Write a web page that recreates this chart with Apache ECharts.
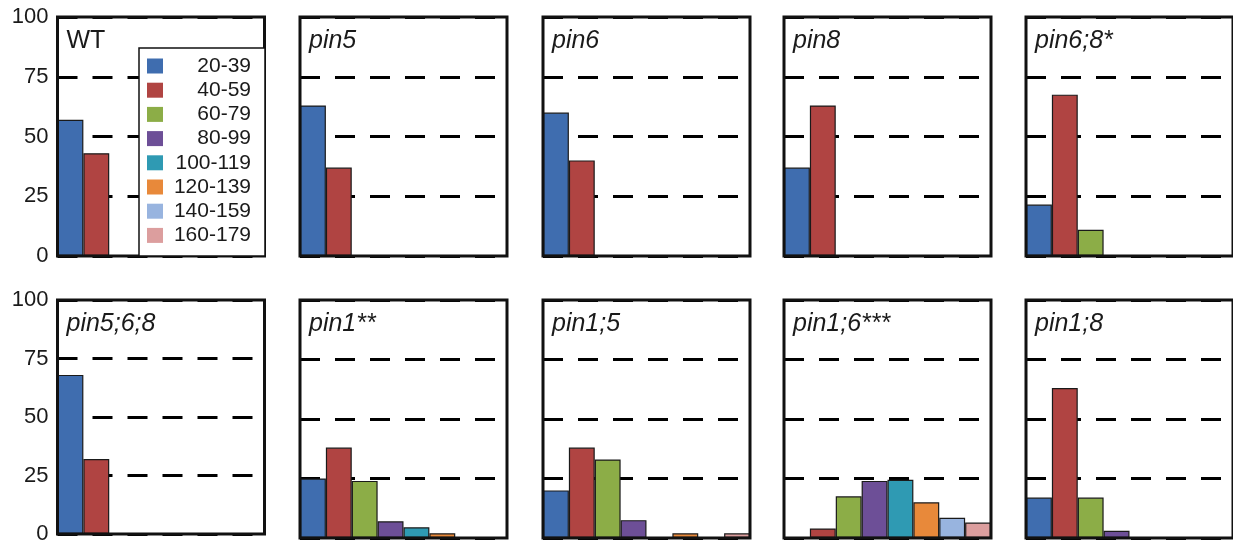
<!DOCTYPE html>
<html>
<head>
<meta charset="utf-8">
<script src="https://cdn.jsdelivr.net/npm/echarts@6/dist/echarts.min.js"></script>
<style>html,body{margin:0;padding:0;background:#fff;}#c{width:1233px;height:545px;}</style>
</head>
<body>
<div id="c"></div>
<script>
// ---- data ----
const categories = ['20-39','40-59','60-79','80-99','100-119','120-139','140-159','160-179'];
const panelNames = ['WT','pin5','pin6','pin8','pin6;8*','pin5;6;8','pin1**','pin1;5','pin1;6***','pin1;8'];
const wt       = [57, 43, 0, 0, 0, 0, 0, 0];
const pin5     = [63, 37, 0, 0, 0, 0, 0, 0];
const pin6     = [60, 40, 0, 0, 0, 0, 0, 0];
const pin8     = [37, 63, 0, 0, 0, 0, 0, 0];
const pin6_8   = [21.5, 67.5, 11, 0, 0, 0, 0, 0];
const pin5_6_8 = [68, 32, 0, 0, 0, 0, 0, 0];
const pin1     = [25, 38, 24, 7, 4.5, 2, 0, 0];
const pin1_5   = [20, 38, 33, 7.5, 0, 2, 0, 2];
const pin1_6   = [0, 4, 17.5, 24, 24.5, 15, 8.5, 6.5];
const pin1_8   = [17, 63, 17, 3, 0, 0, 0, 0];
const panelValues = [wt, pin5, pin6, pin8, pin6_8, pin5_6_8, pin1, pin1_5, pin1_6, pin1_8];
const yMin = 0, yMax = 100, yStep = 25;

// ---- styling / layout ----
const colors = ['#3f6daf','#b04442','#8cad47','#6d4f97','#2f9ab3','#e8893a','#98b4df','#dc9e9e'];
const colLefts = [57.5, 300, 543, 784, 1026];
const rowTops = [17, 300];
const gw = 207;
const FONT = 'Liberation Sans, Arial, sans-serif';

const grids = [], xAxes = [], yAxes = [], series = [], titles = [];
panelValues.forEach((vals, p) => {
  const col = p % 5, row = Math.floor(p / 5);
  const left = colLefts[col], top = rowTops[row];
  grids.push({left, top, width: gw, height: row === 0 ? 239 : 238, show: true,
    borderColor: '#111', borderWidth: 3, backgroundColor: 'transparent', z: 3, containLabel: false});
  xAxes.push({type: 'category', gridIndex: p, data: categories, boundaryGap: true,
    axisLine: {show: false}, axisTick: {show: false}, axisLabel: {show: false}, splitLine: {show: false}});
  yAxes.push({type: 'value', gridIndex: p, min: yMin, max: yMax, interval: yStep,
    axisLine: {show: false}, axisTick: {show: false},
    axisLabel: {show: col === 0, fontSize: 22, color: '#1a1a1a', fontFamily: FONT, margin: 9},
    splitLine: {show: true, lineStyle: {color: '#000', width: 3, type: [20, 15]}}});
  categories.forEach((c, k) => {
    series.push({type: 'bar', name: c, xAxisIndex: p, yAxisIndex: p, stack: 'p' + p,
      barCategoryGap: '0%', z: 2,
      data: vals.map((v, i) => (i === k && v > 0) ? v : '-'),
      itemStyle: {color: colors[k], borderColor: '#1a1a1a', borderWidth: 1.2},
      emphasis: {disabled: true}, animation: false});
  });
  const name = panelNames[p];
  titles.push({text: name, left: left + 9, top: top + 12, padding: 0,
    textStyle: {fontSize: 25, fontWeight: 'normal', fontStyle: name === 'WT' ? 'normal' : 'italic',
      color: '#1a1a1a', fontFamily: FONT}});
});

const option = {
  animation: false,
  backgroundColor: '#fff',
  title: titles,
  grid: grids,
  xAxis: xAxes,
  yAxis: yAxes,
  legend: {
    orient: 'vertical', left: 139, top: 48, z: 4,
    padding: [7.5, 14, 10, 8], itemGap: 3.2, itemWidth: 16, itemHeight: 15,
    backgroundColor: '#fff', borderColor: '#111', borderWidth: 1.5, borderRadius: 0,
    selectedMode: false, icon: 'rect',
    data: categories,
    formatter: '{a|{name}}',
    textStyle: {fontFamily: FONT, fontSize: 21, color: '#1a1a1a', lineHeight: 20,
      rich: {a: {width: 83, align: 'right', fontSize: 21, fontFamily: FONT, color: '#1a1a1a', lineHeight: 20}}},
    itemStyle: {borderWidth: 0}
  },
  series
};
const chart = echarts.init(document.getElementById('c'), null, {renderer: 'canvas'});
chart.setOption(option);
</script>
</body>
</html>
